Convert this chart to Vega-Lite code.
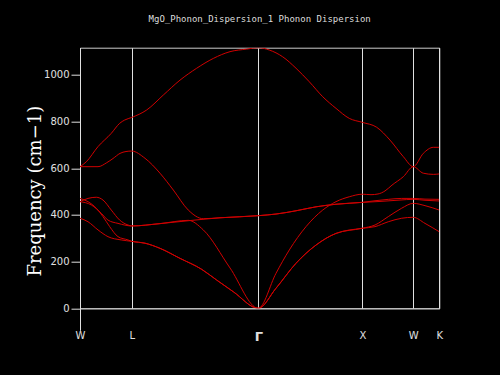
{
  "$schema": "https://vega.github.io/schema/vega-lite/v6.json",
  "width": 359.3,
  "height": 260.6,
  "autosize": "none",
  "padding": {"left": 80, "top": 47.7, "right": 60.7, "bottom": 66.7},
  "background": "black",
  "title": {"text": "MgO_Phonon_Dispersion_1 Phonon Dispersion", "font": "DejaVu Sans Mono", "fontSize": 9, "fontWeight": "normal", "color": "#dddddd", "anchor": "middle", "offset": 24},
  "config": {"view": {"stroke": "#cccccc", "strokeWidth": 1}},
  "data": {"values": [
    {"band":1,"k":0,"f":386},{"band":1,"k":8,"f":371},{"band":1,"k":18,"f":336},{"band":1,"k":28,"f":307},{"band":1,"k":41.3,"f":293},{"band":1,"k":51.7,"f":287},{"band":1,"k":65,"f":279},{"band":1,"k":80,"f":257},{"band":1,"k":100,"f":214},{"band":1,"k":121.7,"f":167},{"band":1,"k":136.7,"f":121},{"band":1,"k":153.3,"f":71},{"band":1,"k":178.3,"f":0},{"band":1,"k":196,"f":86},{"band":1,"k":216,"f":193},{"band":1,"k":236,"f":271},{"band":1,"k":256,"f":321},{"band":1,"k":282.3,"f":343},{"band":1,"k":295,"f":350},{"band":1,"k":308.3,"f":371},{"band":1,"k":321.7,"f":386},{"band":1,"k":333.3,"f":390},{"band":1,"k":345,"f":364},{"band":1,"k":359.3,"f":328},
    {"band":2,"k":0,"f":471},{"band":2,"k":8,"f":457},{"band":2,"k":16.3,"f":429},{"band":2,"k":23,"f":393},{"band":2,"k":29.7,"f":350},{"band":2,"k":38,"f":307},{"band":2,"k":48,"f":293},{"band":2,"k":51.7,"f":287},{"band":2,"k":65,"f":279},{"band":2,"k":80,"f":257},{"band":2,"k":100,"f":214},{"band":2,"k":121.7,"f":167},{"band":2,"k":136.7,"f":121},{"band":2,"k":153.3,"f":71},{"band":2,"k":178.3,"f":0},{"band":2,"k":196,"f":86},{"band":2,"k":216,"f":193},{"band":2,"k":236,"f":271},{"band":2,"k":256,"f":321},{"band":2,"k":282.3,"f":343},{"band":2,"k":295,"f":357},{"band":2,"k":308.3,"f":393},{"band":2,"k":321.7,"f":429},{"band":2,"k":333.3,"f":450},{"band":2,"k":345,"f":440},{"band":2,"k":359.3,"f":421},
    {"band":3,"k":0,"f":457},{"band":3,"k":11.3,"f":443},{"band":3,"k":21.3,"f":407},{"band":3,"k":28,"f":378},{"band":3,"k":38,"f":364},{"band":3,"k":51.7,"f":353},{"band":3,"k":80,"f":363},{"band":3,"k":108.3,"f":377},{"band":3,"k":123.3,"f":336},{"band":3,"k":150,"f":173},{"band":3,"k":178.3,"f":0},{"band":3,"k":196,"f":150},{"band":3,"k":209.3,"f":250},{"band":3,"k":226,"f":350},{"band":3,"k":242.7,"f":421},{"band":3,"k":256,"f":457},{"band":3,"k":269.3,"f":478},{"band":3,"k":282.3,"f":489},{"band":3,"k":291,"f":487},{"band":3,"k":298,"f":490},{"band":3,"k":305,"f":503},{"band":3,"k":312,"f":528},{"band":3,"k":323.3,"f":564},{"band":3,"k":333.3,"f":607},{"band":3,"k":343.3,"f":579},{"band":3,"k":353.3,"f":574},{"band":3,"k":359.3,"f":576},
    {"band":4,"k":0,"f":457},{"band":4,"k":8,"f":471},{"band":4,"k":16.3,"f":476},{"band":4,"k":23,"f":464},{"band":4,"k":31.3,"f":421},{"band":4,"k":39.7,"f":378},{"band":4,"k":48,"f":357},{"band":4,"k":51.7,"f":353},{"band":4,"k":80,"f":363},{"band":4,"k":110,"f":376},{"band":4,"k":140,"f":388},{"band":4,"k":178.3,"f":397},{"band":4,"k":196,"f":404},{"band":4,"k":216,"f":418},{"band":4,"k":236,"f":435},{"band":4,"k":256,"f":446},{"band":4,"k":282.3,"f":454},{"band":4,"k":300,"f":458},{"band":4,"k":320,"f":464},{"band":4,"k":333.3,"f":467},{"band":4,"k":345,"f":463},{"band":4,"k":359.3,"f":460},
    {"band":5,"k":0,"f":607},{"band":5,"k":18,"f":607},{"band":5,"k":26.7,"f":624},{"band":5,"k":33,"f":642},{"band":5,"k":40,"f":664},{"band":5,"k":46,"f":672},{"band":5,"k":51.7,"f":674},{"band":5,"k":65,"f":643},{"band":5,"k":80,"f":579},{"band":5,"k":93.3,"f":507},{"band":5,"k":108.3,"f":421},{"band":5,"k":123.3,"f":384},{"band":5,"k":140,"f":388},{"band":5,"k":178.3,"f":397},{"band":5,"k":196,"f":404},{"band":5,"k":216,"f":418},{"band":5,"k":236,"f":435},{"band":5,"k":256,"f":446},{"band":5,"k":282.3,"f":454},{"band":5,"k":295,"f":461},{"band":5,"k":308.3,"f":467},{"band":5,"k":321.7,"f":471},{"band":5,"k":333.3,"f":471},{"band":5,"k":345,"f":468},{"band":5,"k":359.3,"f":467},
    {"band":6,"k":0,"f":607},{"band":6,"k":6.3,"f":628},{"band":6,"k":18,"f":693},{"band":6,"k":31.3,"f":750},{"band":6,"k":39.7,"f":793},{"band":6,"k":44.7,"f":807},{"band":6,"k":51.7,"f":818},{"band":6,"k":66.7,"f":850},{"band":6,"k":83.3,"f":914},{"band":6,"k":100,"f":978},{"band":6,"k":116.7,"f":1029},{"band":6,"k":133.3,"f":1071},{"band":6,"k":150,"f":1100},{"band":6,"k":166.7,"f":1111},{"band":6,"k":178.3,"f":1117},{"band":6,"k":189.3,"f":1107},{"band":6,"k":202.7,"f":1078},{"band":6,"k":216,"f":1029},{"band":6,"k":229.3,"f":971},{"band":6,"k":242.7,"f":907},{"band":6,"k":256,"f":857},{"band":6,"k":269.3,"f":814},{"band":6,"k":282.3,"f":797},{"band":6,"k":296.7,"f":776},{"band":6,"k":310,"f":721},{"band":6,"k":323.3,"f":650},{"band":6,"k":333.3,"f":607},{"band":6,"k":343.3,"f":664},{"band":6,"k":353.3,"f":690},{"band":6,"k":359.3,"f":690}
  ]},
  "mark": {"type": "line", "color": "#d00000", "strokeWidth": 1, "interpolate": "monotone", "clip": true},
  "encoding": {
    "x": {"field": "k", "type": "quantitative",
      "scale": {"domain": [0, 359.3], "nice": false, "zero": false},
      "axis": {"values": [0, 51.7, 178.3, 282.3, 333.3, 359.3], "title": null,
        "grid": true, "gridColor": "#e0e0e0", "gridWidth": 1,
        "domainColor": "#cccccc",
        "tickColor": {"condition": {"test": "datum.value == 0", "value": "#e0e0e0"}, "value": "transparent"},
        "tickSize": 22, "labelPadding": 0, "labelFlush": false, "labelOverlap": false,
        "labelExpr": "datum.value < 1 ? 'W' : datum.value < 60 ? 'L' : datum.value < 200 ? 'Γ' : datum.value < 300 ? 'X' : datum.value < 340 ? 'W' : 'K'",
        "labelColor": "#e0e0e0", "labelFont": "DejaVu Sans",
        "labelFontSize": {"condition": {"test": "datum.value == 178.3", "value": 13}, "value": 10},
        "labelFontWeight": {"condition": {"test": "datum.value == 178.3", "value": "bold"}, "value": "normal"},
        "labelBaseline": "top"}},
    "y": {"field": "f", "type": "quantitative",
      "scale": {"domain": [0, 1117], "nice": false},
      "axis": {"values": [0, 200, 400, 600, 800, 1000], "format": "d", "grid": false,
        "title": "Frequency (cm−1)", "titleFont": "DejaVu Serif", "titleFontSize": 18, "titleFontWeight": "normal", "titleColor": "white",
        "titleX": -45, "titleY": 143, "titleAngle": -90, "titleAlign": "center", "titleBaseline": "middle",
        "tickSize": 9, "tickColor": "#e0e0e0", "domainColor": "#e0e0e0",
        "labelColor": "#e0e0e0", "labelFont": "DejaVu Sans", "labelFontSize": 10, "labelPadding": 2}},
    "detail": {"field": "band", "type": "nominal"}
  }
}
